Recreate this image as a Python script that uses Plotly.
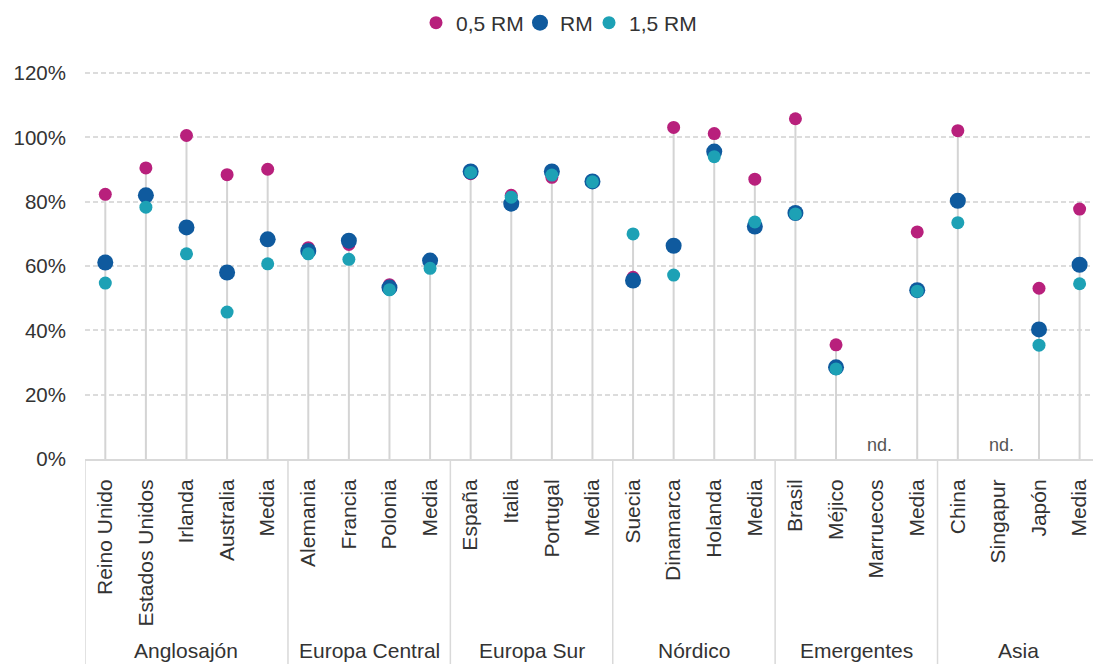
import plotly.graph_objects as go

# Regions and the countries inside each one
groups = ["Anglosajón", "Europa Central", "Europa Sur", "Nórdico", "Emergentes", "Asia"]
group_members = [
    ["Reino Unido", "Estados Unidos", "Irlanda", "Australia", "Media"],
    ["Alemania", "Francia", "Polonia", "Media"],
    ["España", "Italia", "Portugal", "Media"],
    ["Suecia", "Dinamarca", "Holanda", "Media"],
    ["Brasil", "Méjico", "Marruecos", "Media"],
    ["China", "Singapur", "Japón", "Media"],
]

# Values in % (None = no data, labelled "nd.")
rm_05 = [82.3, 90.5, 100.6, 88.4, 90.1,
         65.7, 66.7, 54.2, 61.8,
         88.7, 82.0, 87.6, 86.5,
         56.5, 103.1, 101.2, 87.0,
         105.8, 35.5, None, 70.6,
         102.1, None, 53.1, 77.7]
rm_10 = [61.1, 82.0, 72.0, 58.0, 68.3,
         64.7, 67.9, 53.3, 61.7,
         89.4, 79.4, 89.4, 86.3,
         55.5, 66.3, 95.6, 72.3,
         76.5, 28.5, None, 52.5,
         80.3, None, 40.3, 60.4]
rm_15 = [54.7, 78.3, 63.8, 45.7, 60.7,
         63.8, 62.1, 52.6, 59.3,
         89.1, 81.4, 88.3, 86.2,
         70.0, 57.2, 94.0, 73.7,
         76.2, 28.0, None, 52.2,
         73.5, None, 35.4, 54.5]

series_names = ["0,5 RM", "RM", "1,5 RM"]
series_colors = ["#B8207C", "#0F5A9E", "#1DA1B5"]
series_sizes = [13, 16, 13]

y_ticks = [0, 20, 40, 60, 80, 100, 120]

FONT = "Liberation Sans, Arial, Helvetica, sans-serif"
TEXT = "#333333"
LIGHT = "#d9d9d9"

categories = [c for members in group_members for c in members]
xs = list(range(len(categories)))

fig = go.Figure()

# Vertical stems from 0 up to the highest of the three values
stem_x, stem_y = [], []
for i in xs:
    vals = [v for v in (rm_05[i], rm_10[i], rm_15[i]) if v is not None]
    if vals:
        stem_x += [i, i, None]
        stem_y += [0, max(vals), None]
fig.add_trace(go.Scatter(x=stem_x, y=stem_y, mode="lines",
                         line=dict(color="#d4d4d4", width=2),
                         hoverinfo="skip", showlegend=False))

# One legend box per series so the entries sit close together
legend_ids = ["legend", "legend2", "legend3"]
legend_left_px = [416, 520, 589]

for name, vals, color, size, lid in zip(series_names, [rm_05, rm_10, rm_15],
                                        series_colors, series_sizes, legend_ids):
    fig.add_trace(go.Scatter(
        x=xs, y=vals, mode="markers", name=name, legend=lid,
        marker=dict(color=color, size=size, line=dict(width=0)),
    ))

legend_layout = {}
for lid, left in zip(legend_ids, legend_left_px):
    legend_layout[lid] = dict(
        orientation="h", xref="container", yref="container",
        x=left / 1093, xanchor="left", y=1 - 23 / 664, yanchor="middle",
        font=dict(family=FONT, size=21, color=TEXT),
        itemwidth=30, bgcolor="rgba(0,0,0,0)", borderwidth=0,
    )

# "nd." for categories with no data
annotations = []
for i in xs:
    if rm_05[i] is None and rm_10[i] is None and rm_15[i] is None:
        annotations.append(dict(x=i, y=4.3, xref="x", yref="y", text="nd.",
                                showarrow=False, yanchor="middle", xshift=3,
                                font=dict(family=FONT, size=18, color="#555555")))

# Region labels and the separators between regions
shapes = []
start = 0
plot_h = 419
for g, members in zip(groups, group_members):
    n = len(members)
    center = start + (n - 1) / 2
    annotations.append(dict(x=center, y=-(652 - 459) / plot_h, xref="x", yref="paper",
                            text=g, showarrow=False, yanchor="middle",
                            font=dict(family=FONT, size=21, color=TEXT)))
    shapes.append(dict(type="line", xref="x", yref="paper",
                       x0=start - 0.5, x1=start - 0.5, y0=0, y1=-0.55,
                       line=dict(color=LIGHT, width=1.5)))
    start += n

fig.update_layout(
    width=1093, height=664,
    margin=dict(l=85, r=0, t=40, b=205),
    paper_bgcolor="white", plot_bgcolor="white",
    font=dict(family=FONT, size=21, color=TEXT),
    xaxis=dict(range=[-0.5, 24.33], tickmode="array", tickvals=xs, ticktext=categories,
               tickangle=-90, showgrid=False, zeroline=False,
               showline=True, linecolor=LIGHT, linewidth=2,
               ticks="", ticklabelstandoff=10,
               tickfont=dict(family=FONT, size=21, color=TEXT)),
    yaxis=dict(range=[0, 129.2], tickmode="array", tickvals=y_ticks,
               ticktext=[f"{t}%" for t in y_ticks],
               showgrid=True, gridcolor="#dcdcdc", griddash="5px,3px", gridwidth=1.5,
               zeroline=False, showline=False, ticks="", ticklabelstandoff=18,
               tickfont=dict(family=FONT, size=20.5, color=TEXT)),
    annotations=annotations,
    shapes=shapes,
    **legend_layout,
)

fig.write_html("out.html")
